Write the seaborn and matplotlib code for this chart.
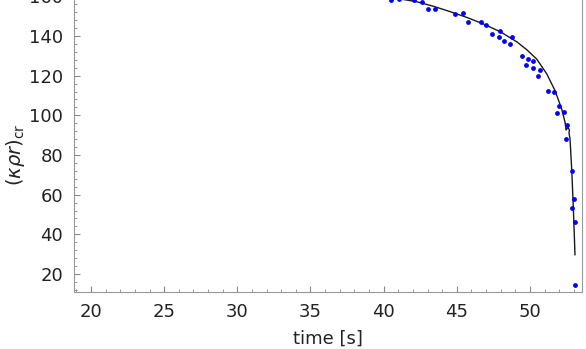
import numpy as np
import pandas as pd
import matplotlib
matplotlib.use("Agg")
import matplotlib.pyplot as plt
from matplotlib.ticker import MultipleLocator
import seaborn as sns

# measured points
time_s = [40.49, 41.07, 42.10, 42.60, 43.01, 43.51, 44.90, 45.43, 45.75, 46.64,
          47.02, 47.43, 47.94, 47.87, 48.25, 48.76, 48.64, 49.46, 49.85, 49.71,
          50.23, 50.23, 50.67, 50.53, 51.26, 51.65, 51.96, 51.84, 52.34, 52.55,
          52.47, 52.88, 52.99, 52.88, 53.06, 53.06]
krr_cr = [158.3, 158.7, 158.2, 157.2, 153.6, 153.5, 151.0, 151.8, 147.1, 147.1,
          145.4, 141.2, 142.5, 139.4, 137.7, 139.4, 136.1, 129.8, 128.6, 125.2,
          127.4, 123.7, 123.0, 119.7, 112.3, 111.9, 104.9, 101.4, 101.7, 95.2,
          88.2, 72.1, 57.7, 53.3, 46.4, 14.5]

# fitted curve
fit_t = [39.5, 41.12, 42.26, 43.40, 44.54, 45.68, 46.81, 47.96, 49.10, 49.78,
         50.46, 51.15, 51.72, 52.17, 52.40, 52.47, 52.60, 52.70, 52.67, 52.74,
         52.86, 52.97, 53.08]
fit_k = [160.5, 158.7, 157.3, 155.0, 152.3, 149.4, 146.1, 142.2, 137.1, 133.1,
         128.4, 120.9, 112.4, 103.2, 96.5, 92.6, 93.9, 92.6, 91.1, 88.1,
         72.1, 52.8, 29.6]

pts = pd.DataFrame({"t": time_s, "k": krr_cr})
fit = pd.DataFrame({"t": fit_t, "k": fit_k})

sns.set_style("white")
plt.rcParams["font.family"] = ["DejaVu Sans"]
plt.rcParams["mathtext.fontset"] = "dejavusans"

fig = plt.figure(figsize=(5.86, 3.49), dpi=100)
ax = fig.add_axes([0.1263, 0.1633, 0.8669, 0.9608])

sns.lineplot(data=fit, x="t", y="k", sort=False, color="#1a1a1a", lw=1.0, ax=ax)
sns.scatterplot(data=pts, x="t", y="k", color="#0000ff", s=12, linewidth=0, ax=ax, zorder=3)

ax.set_xlim(18.84, 53.56)
ax.set_ylim(10.9, 180)

ax.xaxis.set_major_locator(MultipleLocator(5))
ax.xaxis.set_minor_locator(MultipleLocator(1))
ax.yaxis.set_major_locator(MultipleLocator(20))
ax.yaxis.set_minor_locator(MultipleLocator(4))

for side in ["left", "bottom", "right"]:
    ax.spines[side].set_color("#999999")
    ax.spines[side].set_linewidth(0.8)
ax.spines["top"].set_visible(False)

ax.tick_params(which="both", direction="in", color="#888888", labelsize=13,
               labelcolor="#222222", right=False, top=False, bottom=True, left=True)
ax.tick_params(which="major", length=4, width=0.8)
ax.tick_params(axis="x", which="major", pad=8)
ax.tick_params(axis="y", which="major", pad=8)
ax.tick_params(which="minor", length=2, width=0.6)

ax.set_xlabel("time [s]", fontsize=13, color="#222222")
ax.set_ylabel(r"$(\kappa\rho r)_{\mathrm{cr}}$", fontsize=14, color="#222222")
ax.xaxis.set_label_coords(0.5, -0.113)
ax.yaxis.set_label_coords(-0.092, 0.409)

fig.savefig("out.png", dpi=100)
